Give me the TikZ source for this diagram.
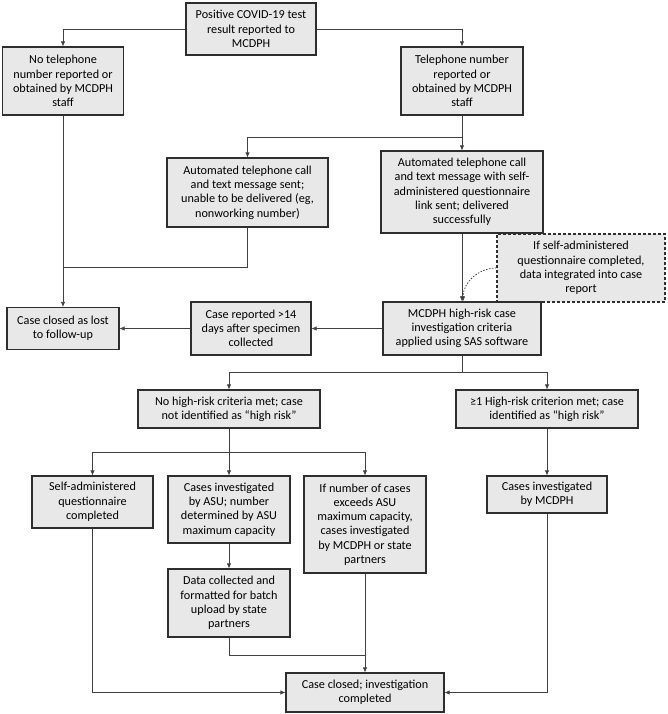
\documentclass[tikz,border=0pt]{standalone}
\usepackage{fontspec}
\setmainfont{Carlito}
\usetikzlibrary{arrows.meta}

\definecolor{boxfill}{HTML}{E8E8E8}
\definecolor{boxline}{HTML}{2E2E2E}
\definecolor{linkline}{HTML}{404040}

\tikzset{
  flowbox/.style={rectangle, draw=boxline, fill=boxfill, line width=1.1pt, align=center,
    inner sep=2pt, font=\fontsize{12.2}{14.3}\selectfont},
  notebox/.style={flowbox, dash pattern=on 3pt off 2pt},
  link/.style={draw=linkline, line width=0.75pt},
  arr/.style={link, -{Latex[length=5pt,width=4.5pt]}}
}

\begin{document}
\begin{tikzpicture}[x=1pt, y=-1pt]
        \useasboundingbox (0,0) rectangle (667,714);

        % top row
        \node[flowbox, minimum width=130pt, minimum height=52pt] (positive) at (251,29) {Positive COVID-19 test\\result reported to\\MCDPH};
        \node[flowbox, minimum width=121pt, minimum height=68pt] (nophone) at (63,81) {No telephone\\number reported or\\obtained by MCDPH\\staff};
        \node[flowbox, minimum width=122pt, minimum height=68pt] (phone) at (462,81) {Telephone number\\reported or\\obtained by MCDPH\\staff};

        \draw[arr] (positive.west) -| (nophone.north);
        \draw[arr] (positive.east) -| (phone.north);

        % automated contact
        \node[flowbox, minimum width=161pt, minimum height=69pt] (callfail) at (247.5,192.5) {Automated telephone call\\and text message sent;\\unable to be delivered (eg,\\nonworking number)};
        \node[flowbox, minimum width=162pt, minimum height=82pt] (callok) at (462,192) {Automated telephone call\\and text message with self-\\administered questionnaire\\link sent; delivered\\successfully};

        \draw[arr] (phone.south) -- (callok.north);
        \draw[arr] (phone.south) -- ++(0,22) -| (callfail.north);

        % criteria row
        \node[notebox, minimum width=168pt, minimum height=68pt] (survey) at (581,268) {If self-administered\\questionnaire completed,\\data integrated into case\\report};
        \node[flowbox, minimum width=158pt, minimum height=53pt] (criteria) at (462,328.5) {MCDPH high-risk case\\investigation criteria\\applied using SAS software};
        \node[flowbox, minimum width=120pt, minimum height=53pt] (late) at (251,328.5) {Case reported {>}14\\days after specimen\\collected};
        \node[flowbox, minimum width=112pt, minimum height=42pt] (lost) at (63,328.5) {Case closed as lost\\to follow-up};

        \coordinate (lostjoin) at (63,267);
        \draw[arr] (nophone.south) -- (lost.north);
        \draw[link] (callfail.south) |- (lostjoin);
        \draw[arr] (callok.south) -- (criteria.north);
        \draw[arr, dash pattern=on 1.5pt off 1.5pt] (survey.west) to[out=180, in=90] ([xshift=1pt]criteria.north);
        \draw[arr] (criteria.west) -- (late.east);
        \draw[arr] (late.west) -- (lost.east);

        % risk split
        \node[flowbox, minimum width=182pt, minimum height=38pt] (nohigh) at (229,409) {No high-risk criteria met; case\\not identified as “high risk”};
        \node[flowbox, minimum width=182pt, minimum height=38pt] (high) at (547,409) {≥1 High-risk criterion met; case\\identified as “high risk”};

        \draw[arr] (criteria.south) -- ++(0,17) -| (nohigh.north);
        \draw[arr] (criteria.south) -- ++(0,17) -| (high.north);

        % investigation
        \node[flowbox, minimum width=121pt, minimum height=52pt] (selfq) at (92.5,502) {Self-administered\\questionnaire\\completed};
        \node[flowbox, minimum width=122pt, minimum height=67pt] (asu) at (229,509.5) {Cases investigated\\by ASU; number\\determined by ASU\\maximum capacity};
        \node[flowbox, minimum width=122pt, minimum height=97pt] (overflow) at (365,524.5) {If number of cases\\exceeds ASU\\maximum capacity,\\cases investigated\\by MCDPH or state\\partners};
        \node[flowbox, minimum width=120pt, minimum height=37pt] (bymcdph) at (547,494.5) {Cases investigated\\by MCDPH};
        \node[flowbox, minimum width=122pt, minimum height=68pt] (batch) at (229,603) {Data collected and\\formatted for batch\\upload by state\\partners};

        \draw[arr] (nohigh.south) -- ++(0,24) -| (selfq.north);
        \draw[arr] (nohigh.south) -- (asu.north);
        \draw[arr] (nohigh.south) -- ++(0,24) -| (overflow.north);
        \draw[arr] (high.south) -- (bymcdph.north);
        \draw[arr] (asu.south) -- (batch.north);

        % closing
        \node[flowbox, minimum width=158pt, minimum height=39pt] (closed) at (365,692.5) {Case closed; investigation\\completed};

        \coordinate (batchjoin) at (365,655);
        \draw[link] (batch.south) |- (batchjoin);
        \draw[arr] (overflow.south) -- (closed.north);
        \draw[arr] (selfq.south) |- (closed.west);
        \draw[arr] (bymcdph.south) |- (closed.east);
\end{tikzpicture}
\end{document}
